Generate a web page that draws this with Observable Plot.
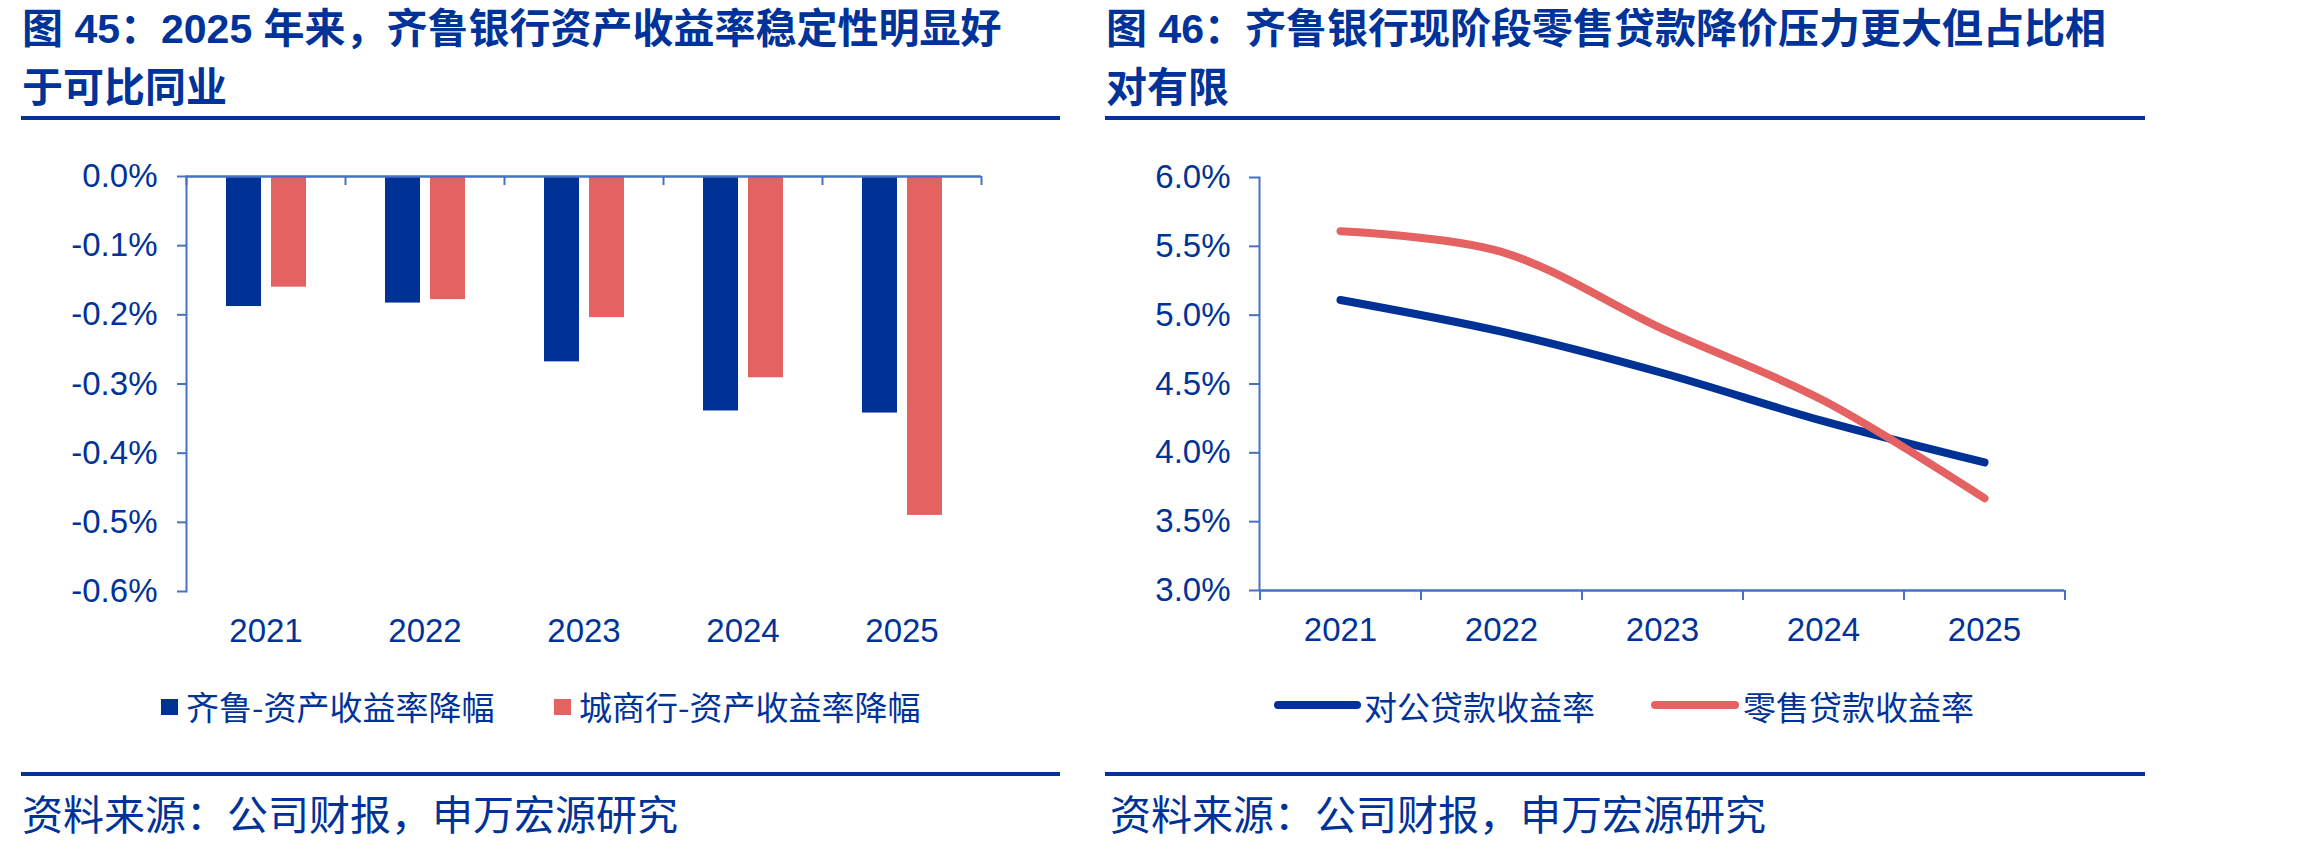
<!DOCTYPE html>
<html><head><meta charset="utf-8">
<script src="https://cdn.jsdelivr.net/npm/d3@7"></script>
<script src="https://cdn.jsdelivr.net/npm/@observablehq/plot@0.6"></script>
<style>
html,body{margin:0;padding:0;background:#fff;}
#page{position:relative;width:2314px;height:849px;overflow:hidden;background:#fff;font-family:"Liberation Sans","Noto Sans CJK SC",sans-serif;color:#003399;}
.abs{position:absolute;}
.title{font-family:"Liberation Sans","Noto Sans CJK SC",sans-serif;font-weight:700;font-size:41px;line-height:59px;white-space:nowrap;color:#003399;}
.rule{height:4px;background:#003399;}
.src{font-family:"Noto Sans CJK SC",sans-serif;font-size:41px;line-height:50px;white-space:nowrap;color:#003399;}
.leg{font-family:"Noto Sans CJK SC",sans-serif;font-size:33px;line-height:40px;white-space:nowrap;color:#003399;}
svg{overflow:visible;}
</style></head><body><div id="page"></div>
<script>
// ---- data ----
const years = ["2021", "2022", "2023", "2024", "2025"];
const barSeries = ["齐鲁-资产收益率降幅", "城商行-资产收益率降幅"];
const qiluDrop = [-0.188, -0.183, -0.268, -0.339, -0.342];
const cityDrop = [-0.160, -0.178, -0.204, -0.291, -0.490];
const barTicks = [0, -0.1, -0.2, -0.3, -0.4, -0.5, -0.6];

const lineSeries = ["对公贷款收益率", "零售贷款收益率"];
const corpYield = [5.11, 4.88, 4.58, 4.23, 3.93];
const retailYield = [5.61, 5.46, 4.90, 4.38, 3.67];
const lineTicks = [3.0, 3.5, 4.0, 4.5, 5.0, 5.5, 6.0];

const leftTitle = ["图 45：2025 年来，齐鲁银行资产收益率稳定性明显好", "于可比同业"];
const rightTitle = ["图 46：齐鲁银行现阶段零售贷款降价压力更大但占比相", "对有限"];
const sourceText = "资料来源：公司财报，申万宏源研究";

// ---- styles ----
const TEXT = "#003399";
const BLUE = "#003296";
const RED = "#E46262";
const AXIS = "#4472C4";
const fmt = d => d.toFixed(1) + "%";
const plotStyle = {fontFamily: "'Liberation Sans', Arial, sans-serif", fontSize: "33px", color: TEXT, background: "transparent", overflow: "visible"};

const page = document.getElementById("page");
function add(html, cls, css) {
  const el = document.createElement("div");
  el.className = "abs " + cls;
  Object.assign(el.style, css);
  el.innerHTML = html;
  page.appendChild(el);
  return el;
}

// titles + rules + sources
add(leftTitle.join("<br>"), "title", {left: "22px", top: "0px"});
add(rightTitle.join("<br>"), "title", {left: "1106px", top: "0px"});
add("", "rule", {left: "21px", top: "116px", width: "1039px"});
add("", "rule", {left: "1105px", top: "116px", width: "1040px"});
add("", "rule", {left: "21px", top: "772px", width: "1039px"});
add("", "rule", {left: "1105px", top: "772px", width: "1040px"});
add(sourceText, "src", {left: "22px", top: "787px"});
add(sourceText, "src", {left: "1110px", top: "787px"});

// ---- left chart: bars ----
const barRows = years.flatMap((y, i) => [
  {year: y, series: barSeries[0], value: qiluDrop[i]},
  {year: y, series: barSeries[1], value: cityDrop[i]}
]);
const left = Plot.plot({
  width: 1060, height: 540,
  marginLeft: 186, marginRight: 79, marginTop: 56, marginBottom: 69,
  style: plotStyle,
  x: {type: "band", domain: years, padding: 0, axis: null},
  y: {domain: [-0.6, 0], axis: null},
  marks: [
    Plot.barY(barRows.filter(d => d.series === barSeries[0]), {x: "year", y: "value", fill: BLUE, insetLeft: 40, insetRight: 84}),
    Plot.barY(barRows.filter(d => d.series === barSeries[1]), {x: "year", y: "value", fill: RED, insetLeft: 85, insetRight: 39}),
    Plot.frame({anchor: "left", stroke: AXIS, strokeWidth: 2}),
    Plot.ruleY([0], {stroke: AXIS, strokeWidth: 2.5}),
    Plot.ruleX(years, {x: d => d, dx: -79.5, insetBottom: 406, stroke: AXIS, strokeWidth: 2}),
    Plot.ruleX(years.slice(-1), {x: d => d, dx: 79.5, insetBottom: 406, stroke: AXIS, strokeWidth: 2}),
    Plot.axisY({ticks: barTicks, tickFormat: fmt, tickSize: 9, tickPadding: 20, stroke: AXIS, strokeWidth: 2, fill: TEXT, fontSize: 33, label: null}),
    Plot.axisX({anchor: "bottom", tickSize: 0, tickPadding: 27, fill: TEXT, fontSize: 33, label: null})
  ]
});
left.style.position = "absolute";
left.style.left = "0px";
left.style.top = "120px";
page.appendChild(left);

// ---- right chart: lines ----
const lineRows = years.flatMap((y, i) => [
  {year: y, series: lineSeries[0], value: corpYield[i]},
  {year: y, series: lineSeries[1], value: retailYield[i]}
]);
const right = Plot.plot({
  width: 1060, height: 540,
  marginLeft: 159, marginRight: 96, marginTop: 57, marginBottom: 70,
  style: plotStyle,
  x: {type: "point", domain: years, padding: 0.5, axis: null},
  y: {domain: [3, 6], axis: null},
  color: {domain: lineSeries, range: [BLUE, RED]},
  marks: [
    Plot.frame({anchor: "left", stroke: AXIS, strokeWidth: 2}),
    Plot.ruleY([3], {stroke: AXIS, strokeWidth: 2.5}),
    Plot.ruleX(years, {x: d => d, dx: -80.5, insetTop: 403, dy: 10, stroke: AXIS, strokeWidth: 2}),
    Plot.ruleX(years.slice(-1), {x: d => d, dx: 80.5, insetTop: 403, dy: 10, stroke: AXIS, strokeWidth: 2}),
    Plot.axisY({ticks: lineTicks, tickFormat: fmt, tickSize: 10, tickPadding: 19, stroke: AXIS, strokeWidth: 2, fill: TEXT, fontSize: 33, label: null}),
    Plot.axisX({anchor: "bottom", tickSize: 0, tickPadding: 27, fill: TEXT, fontSize: 33, label: null}),
    Plot.line(lineRows, {x: "year", y: "value", z: "series", stroke: "series", strokeWidth: 8, curve: "catmull-rom", strokeLinecap: "round", strokeLinejoin: "round"})
  ]
});
right.style.position = "absolute";
right.style.left = "1100px";
right.style.top = "120px";
page.appendChild(right);

// ---- legends ----
add("", "", {left: "161px", top: "699px", width: "17px", height: "16px", background: BLUE});
add(barSeries[0], "leg", {left: "186px", top: "686px"});
add("", "", {left: "554px", top: "699px", width: "17px", height: "16px", background: RED});
add(barSeries[1], "leg", {left: "579px", top: "686px"});

add("", "", {left: "1274px", top: "701px", width: "87px", height: "8px", background: BLUE, borderRadius: "4px"});
add(lineSeries[0], "leg", {left: "1364px", top: "686px"});
add("", "", {left: "1651px", top: "701px", width: "88px", height: "8px", background: RED, borderRadius: "4px"});
add(lineSeries[1], "leg", {left: "1743px", top: "686px"});
</script>
</body></html>
